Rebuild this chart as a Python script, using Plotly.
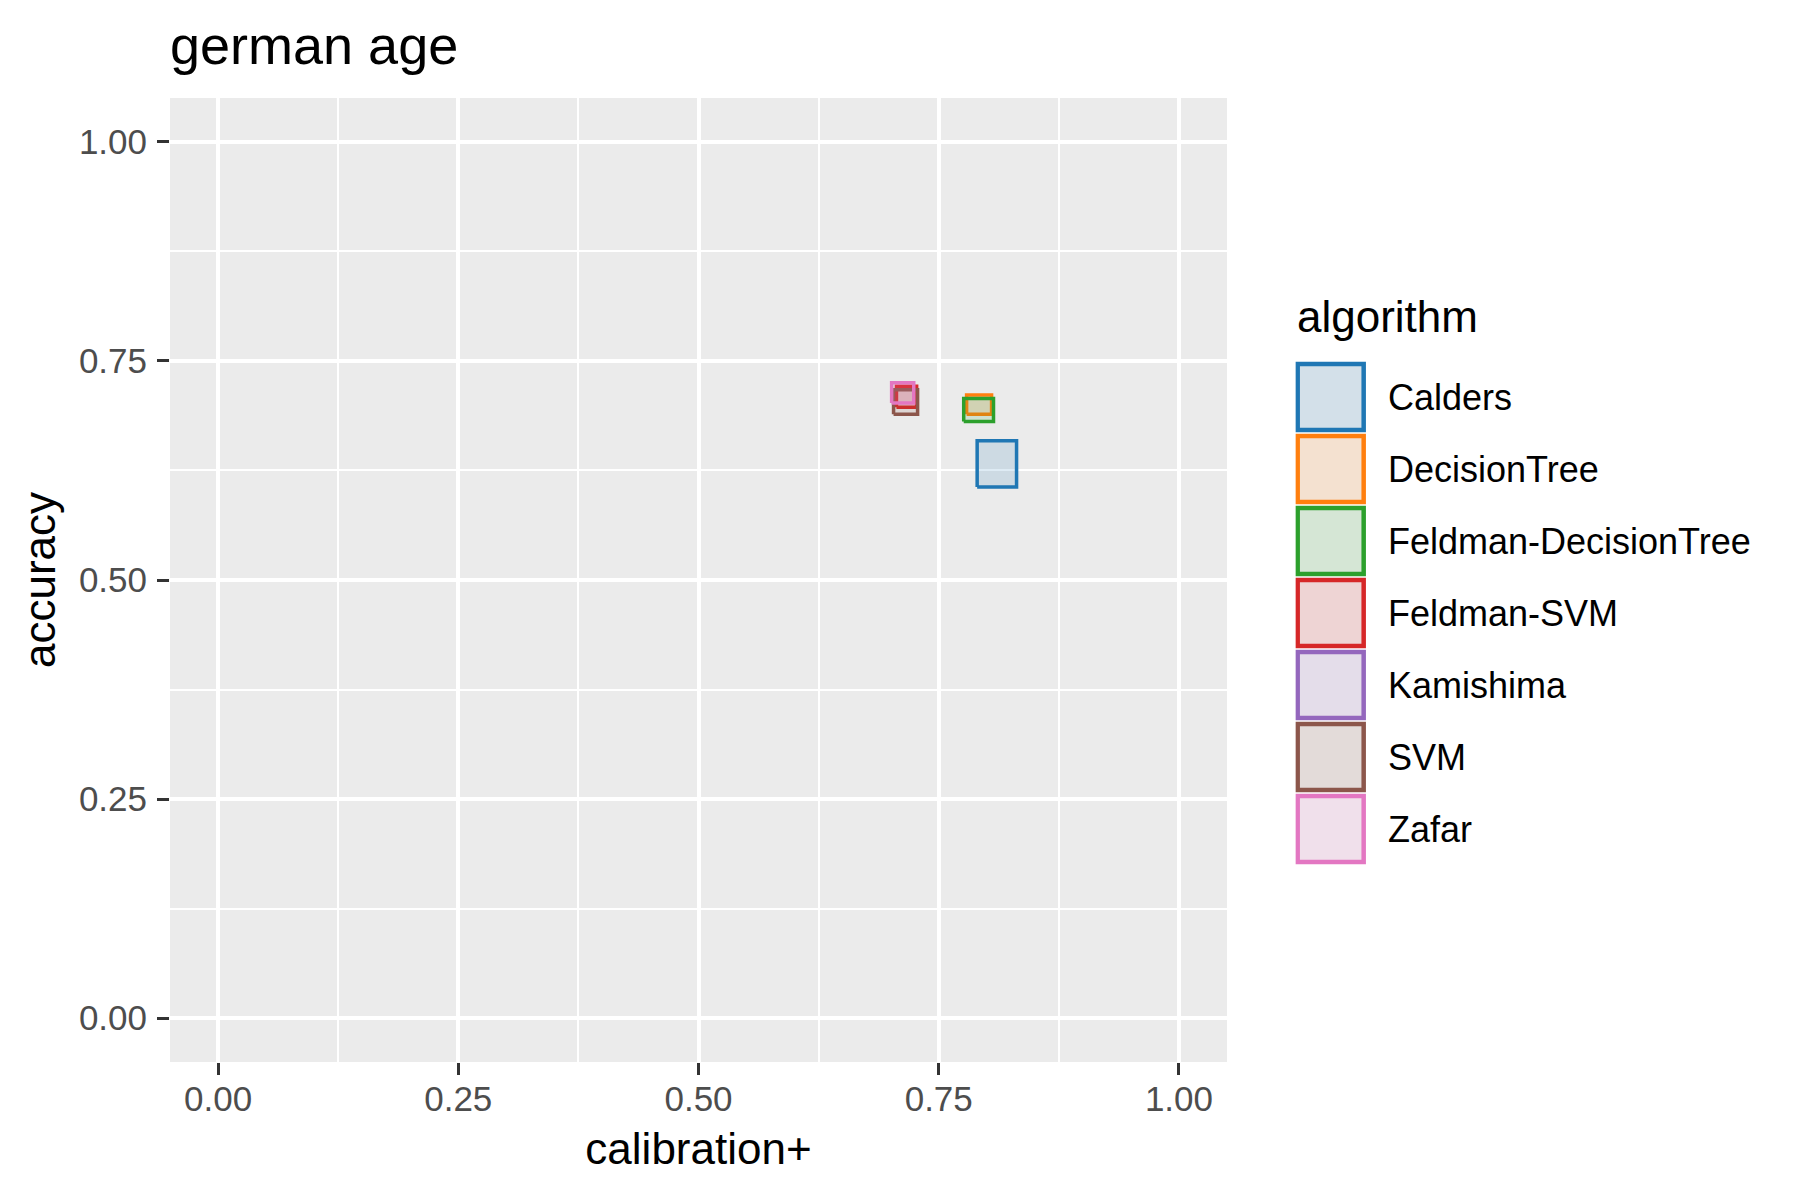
import plotly.graph_objects as go

# data (rectangle extents per algorithm)
algorithms = ["Calders", "DecisionTree", "Feldman-DecisionTree", "Feldman-SVM",
              "Kamishima", "SVM", "Zafar"]
calib_lo = [0.790, 0.779, 0.776, 0.706, None, 0.703, 0.701]
calib_hi = [0.831, 0.805, 0.807, 0.727, None, 0.728, 0.724]
acc_lo = [0.606, 0.689, 0.681, 0.697, None, 0.689, 0.702]
acc_hi = [0.659, 0.711, 0.707, 0.721, None, 0.717, 0.725]
tick_vals = [0, 0.25, 0.5, 0.75, 1.0]
tick_text = ["0.00", "0.25", "0.50", "0.75", "1.00"]

colors = ["#1f77b4", "#ff7f0e", "#2ca02c", "#d62728", "#9467bd", "#8c564b", "#e377c2"]


def rgba(hex_color, a):
    h = hex_color.lstrip("#")
    r, g, b = int(h[0:2], 16), int(h[2:4], 16), int(h[4:6], 16)
    return f"rgba({r},{g},{b},{a})"


FONT = "Liberation Sans, Arial, sans-serif"

fig = go.Figure()

# rectangles in the main panel
for name, col, x0, x1, y0, y1 in zip(algorithms, colors, calib_lo, calib_hi, acc_lo, acc_hi):
    if x0 is None:
        continue
    fig.add_trace(go.Scatter(
        x=[x0, x1, x1, x0, x0], y=[y0, y0, y1, y1, y0],
        mode="lines", fill="toself", fillcolor=rgba(col, 0.15),
        line=dict(color=col, width=3.5), name=name, showlegend=False,
        hoverinfo="name", xaxis="x", yaxis="y"))

# hand-made legend keys (ggplot-style big squares on grey95 key background)
key_y = list(range(len(algorithms)))
fig.add_trace(go.Scatter(
    x=[35.25] * len(algorithms), y=key_y, mode="markers",
    marker=dict(symbol="square", size=68, color="#f2f2f2", line=dict(width=0)),
    showlegend=False, hoverinfo="skip", xaxis="x2", yaxis="y2"))
fig.add_trace(go.Scatter(
    x=[35.25] * len(algorithms), y=key_y, mode="markers",
    marker=dict(symbol="square", size=66,
                color=[rgba(c, 0.15) for c in colors],
                line=dict(color=colors, width=4.5)),
    showlegend=False, hoverinfo="skip", xaxis="x2", yaxis="y2"))

annotations = [dict(x=91, y=i, xref="x2", yref="y2", text=name, showarrow=False,
                    xanchor="left", yanchor="middle",
                    font=dict(family=FONT, size=36, color="black"))
               for i, name in enumerate(algorithms)]
annotations.append(dict(x=0, y=-1.12, xref="x2", yref="y2", text="algorithm",
                        showarrow=False, xanchor="left", yanchor="middle",
                        font=dict(family=FONT, size=44, color="black")))

axis_style = dict(
    range=[-0.05, 1.05], tickvals=tick_vals, ticktext=tick_text,
    showgrid=True, gridcolor="white", gridwidth=3.5,
    minor=dict(tick0=0.125, dtick=0.25, showgrid=True, gridcolor="white", gridwidth=1.8),
    zeroline=False, showline=False,
    ticks="outside", ticklen=12, tickwidth=3, tickcolor="#333333",
    tickfont=dict(family=FONT, size=35, color="#4d4d4d"),
)

# page body adds an 8px offset, so margins are shifted to compensate
fig.update_layout(
    width=1800, height=1200,
    margin=dict(l=162, r=28, t=90, b=146),
    paper_bgcolor="white", plot_bgcolor="white",
    showlegend=False,
    title=dict(text="german age", x=0, xref="paper", xanchor="left",
               y=1 - 37.5 / 1200, yref="container", yanchor="middle",
               font=dict(family=FONT, size=54, color="black")),
    xaxis=dict(domain=[0, 1057 / 1610], anchor="y", ticklabelstandoff=-6,
               title=dict(text="calibration+", standoff=16,
                          font=dict(family=FONT, size=44, color="black")),
               **axis_style),
    yaxis=dict(domain=[0, 1], anchor="x", ticklabelstandoff=3,
               title=dict(text="accuracy", standoff=9,
                          font=dict(family=FONT, size=44, color="black")),
               **axis_style),
    xaxis2=dict(domain=[0.699, 1.0], range=[0, 484], visible=False, anchor="y2"),
    yaxis2=dict(domain=[0, 1], range=[9.236, -4.153], visible=False, anchor="x2"),
    shapes=[dict(type="rect", xref="x domain", yref="y domain", x0=0, x1=1, y0=0, y1=1,
                 fillcolor="#ebebeb", line=dict(width=0), layer="below")],
    annotations=annotations,
)

fig.write_html("out.html")
